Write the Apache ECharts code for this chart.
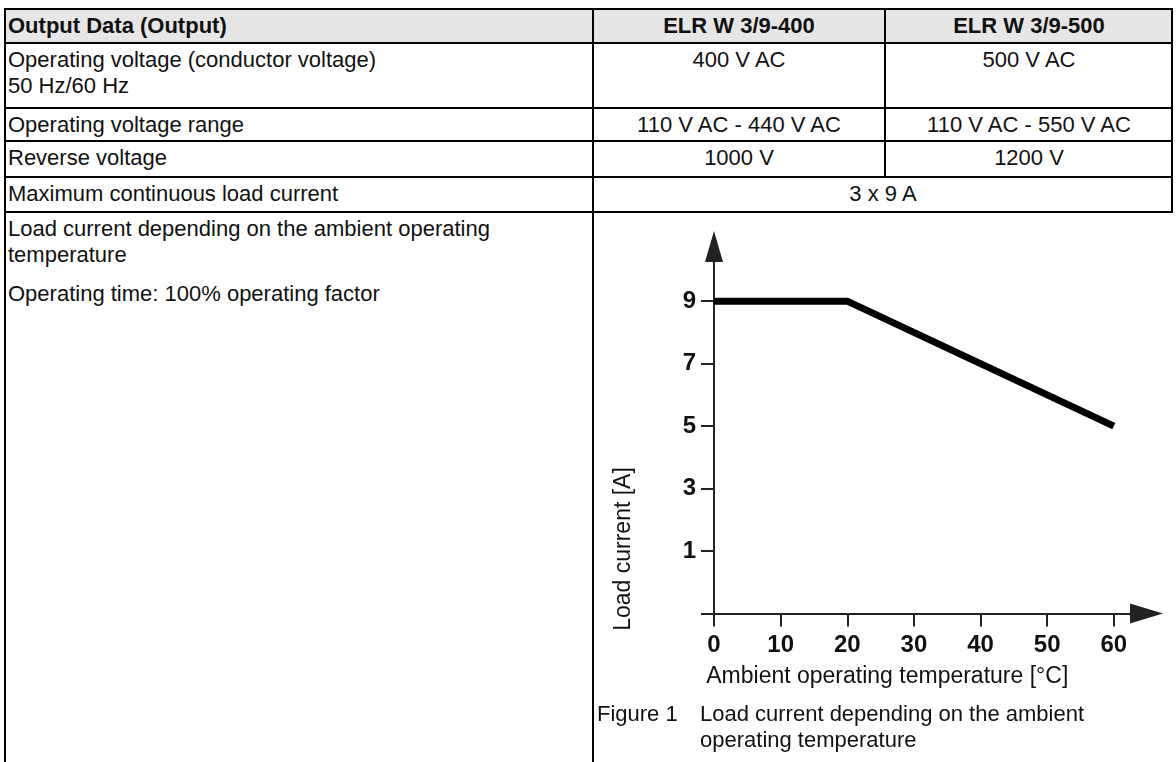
<!DOCTYPE html>
<html lang="en">
  <head>
    <meta charset="UTF-8" />
    <title>Load current vs ambient temperature</title>
    <script src="https://cdn.jsdelivr.net/npm/echarts@6/dist/echarts.min.js"></script>
    <style>
      html,
      body {
        margin: 0;
        padding: 0;
        background: #fff;
      }
      body {
        width: 1176px;
        height: 762px;
        overflow: hidden;
        position: relative;
        font-family: "Liberation Sans", Arial, sans-serif;
        font-size: 22px;
        line-height: 26px;
        color: #111;
      }
      .hl,
      .vl {
        position: absolute;
        background: #000;
      }
      .hl {
        height: 2px;
      }
      .vl {
        width: 2px;
      }
      .txt {
        position: absolute;
        white-space: nowrap;
      }
      .c {
        text-align: center;
      }
      .b {
        font-weight: bold;
      }
      #head {
        position: absolute;
        left: 5px;
        top: 9px;
        width: 1167px;
        height: 34px;
        background: #e6e6e6;
      }
      #chart {
        position: absolute;
        left: 595px;
        top: 214px;
        width: 577px;
        height: 548px;
      }
    </style>
  </head>

  <body>
    <div id="head"></div>

    <!-- table grid -->
    <div class="hl" style="left: 5px; top: 8px; width: 1168px"></div>
    <div class="hl" style="left: 5px; top: 42px; width: 1168px"></div>
    <div class="hl" style="left: 5px; top: 107px; width: 1168px"></div>
    <div class="hl" style="left: 5px; top: 140px; width: 1168px"></div>
    <div class="hl" style="left: 5px; top: 176px; width: 1168px"></div>
    <div class="hl" style="left: 5px; top: 211px; width: 1168px"></div>
    <div class="vl" style="left: 4px; top: 8px; height: 760px"></div>
    <div class="vl" style="left: 592px; top: 8px; height: 760px"></div>
    <div class="vl" style="left: 884px; top: 8px; height: 170px"></div>
    <div class="vl" style="left: 1171px; top: 8px; height: 205px"></div>

    <!-- header -->
    <div class="txt b" style="left: 8px; top: 13px">Output Data (Output)</div>
    <div class="txt b c" style="left: 594px; top: 13px; width: 290px">ELR W 3/9-400</div>
    <div class="txt b c" style="left: 886px; top: 13px; width: 286px">ELR W 3/9-500</div>

    <!-- rows -->
    <div class="txt" style="left: 8px; top: 47px">
      Operating voltage (conductor voltage)<br />50 Hz/60 Hz
    </div>
    <div class="txt c" style="left: 594px; top: 47px; width: 290px">400 V AC</div>
    <div class="txt c" style="left: 886px; top: 47px; width: 286px">500 V AC</div>

    <div class="txt" style="left: 8px; top: 112px">Operating voltage range</div>
    <div class="txt c" style="left: 594px; top: 112px; width: 290px">110 V AC - 440 V AC</div>
    <div class="txt c" style="left: 886px; top: 112px; width: 286px">110 V AC - 550 V AC</div>

    <div class="txt" style="left: 8px; top: 145px">Reverse voltage</div>
    <div class="txt c" style="left: 594px; top: 145px; width: 290px">1000 V</div>
    <div class="txt c" style="left: 886px; top: 145px; width: 286px">1200 V</div>

    <div class="txt" style="left: 8px; top: 181px">Maximum continuous load current</div>
    <div class="txt c" style="left: 594px; top: 181px; width: 578px">3 x 9 A</div>

    <div class="txt" style="left: 8px; top: 216px">
      Load current depending on the ambient operating<br />temperature
    </div>
    <div class="txt" style="left: 8px; top: 281px">Operating time: 100% operating factor</div>

    <div id="chart"></div>

    <div class="txt" style="left: 597px; top: 701px">Figure 1</div>
    <div class="txt" style="left: 700px; top: 701px">
      Load current depending on the ambient<br />operating temperature
    </div>

    <script type="text/javascript">
      // derating curve: temperature [°C] -> load current [A]
      var tempC = [0, 20, 60];
      var loadA = [9, 9, 5];
      var xTicks = [0, 10, 20, 30, 40, 50, 60];
      var yTicks = [1, 3, 5, 7, 9];

      var xName = "Ambient operating temperature [°C]";
      var yName = "Load current [A]";

      function main() {
        var myChart = echarts.init(document.getElementById("chart"));
        var points = tempC.map(function (t, i) {
          return [t, loadA[i]];
        });
        var axisColor = "#222";
        var font = '"Liberation Sans", Arial, sans-serif';

        const option = {
          animation: false,
          grid: {
            left: 119,
            right: 25.5,
            top: 32.5,
            bottom: 148.5,
          },
          xAxis: {
            type: "value",
            min: 0,
            max: 64.9,
            name: xName,
            nameLocation: "middle",
            nameGap: 52,
            nameTextStyle: {
              fontFamily: font,
              fontSize: 23,
              color: "#111",
              padding: [0, 86, 0, 0],
            },
            axisLine: {
              show: true,
              onZero: false,
              symbol: ["none", "triangle"],
              symbolSize: [20, 33],
              lineStyle: { color: axisColor, width: 2 },
            },
            axisTick: {
              show: true,
              length: 13,
              customValues: xTicks,
              lineStyle: { color: axisColor, width: 2 },
            },
            axisLabel: {
              customValues: xTicks,
              margin: 20,
              fontFamily: font,
              fontSize: 24,
              fontWeight: "bold",
              color: "#111",
            },
            splitLine: { show: false },
          },
          yAxis: {
            type: "value",
            min: -1,
            max: 10.75,
            name: yName,
            nameLocation: "middle",
            nameRotate: 90,
            nameGap: 79,
            nameTextStyle: {
              fontFamily: font,
              fontSize: 23,
              color: "#111",
              padding: [0, 238, 0, 0],
            },
            axisLine: {
              show: true,
              onZero: false,
              symbol: ["none", "triangle"],
              symbolSize: [18, 31],
              lineStyle: { color: axisColor, width: 2 },
            },
            axisTick: {
              show: true,
              length: 13,
              customValues: [-1].concat(yTicks),
              lineStyle: { color: axisColor, width: 2 },
            },
            axisLabel: {
              customValues: yTicks,
              margin: 18,
              fontFamily: font,
              fontSize: 24,
              fontWeight: "bold",
              color: "#111",
            },
            splitLine: { show: false },
          },
          series: [
            {
              name: yName,
              type: "line",
              data: points,
              symbol: "none",
              lineStyle: { color: "#000", width: 7, cap: "butt", join: "miter" },
            },
          ],
        };
        myChart.setOption(option);
      }

      main();
    </script>
  </body>
</html>
